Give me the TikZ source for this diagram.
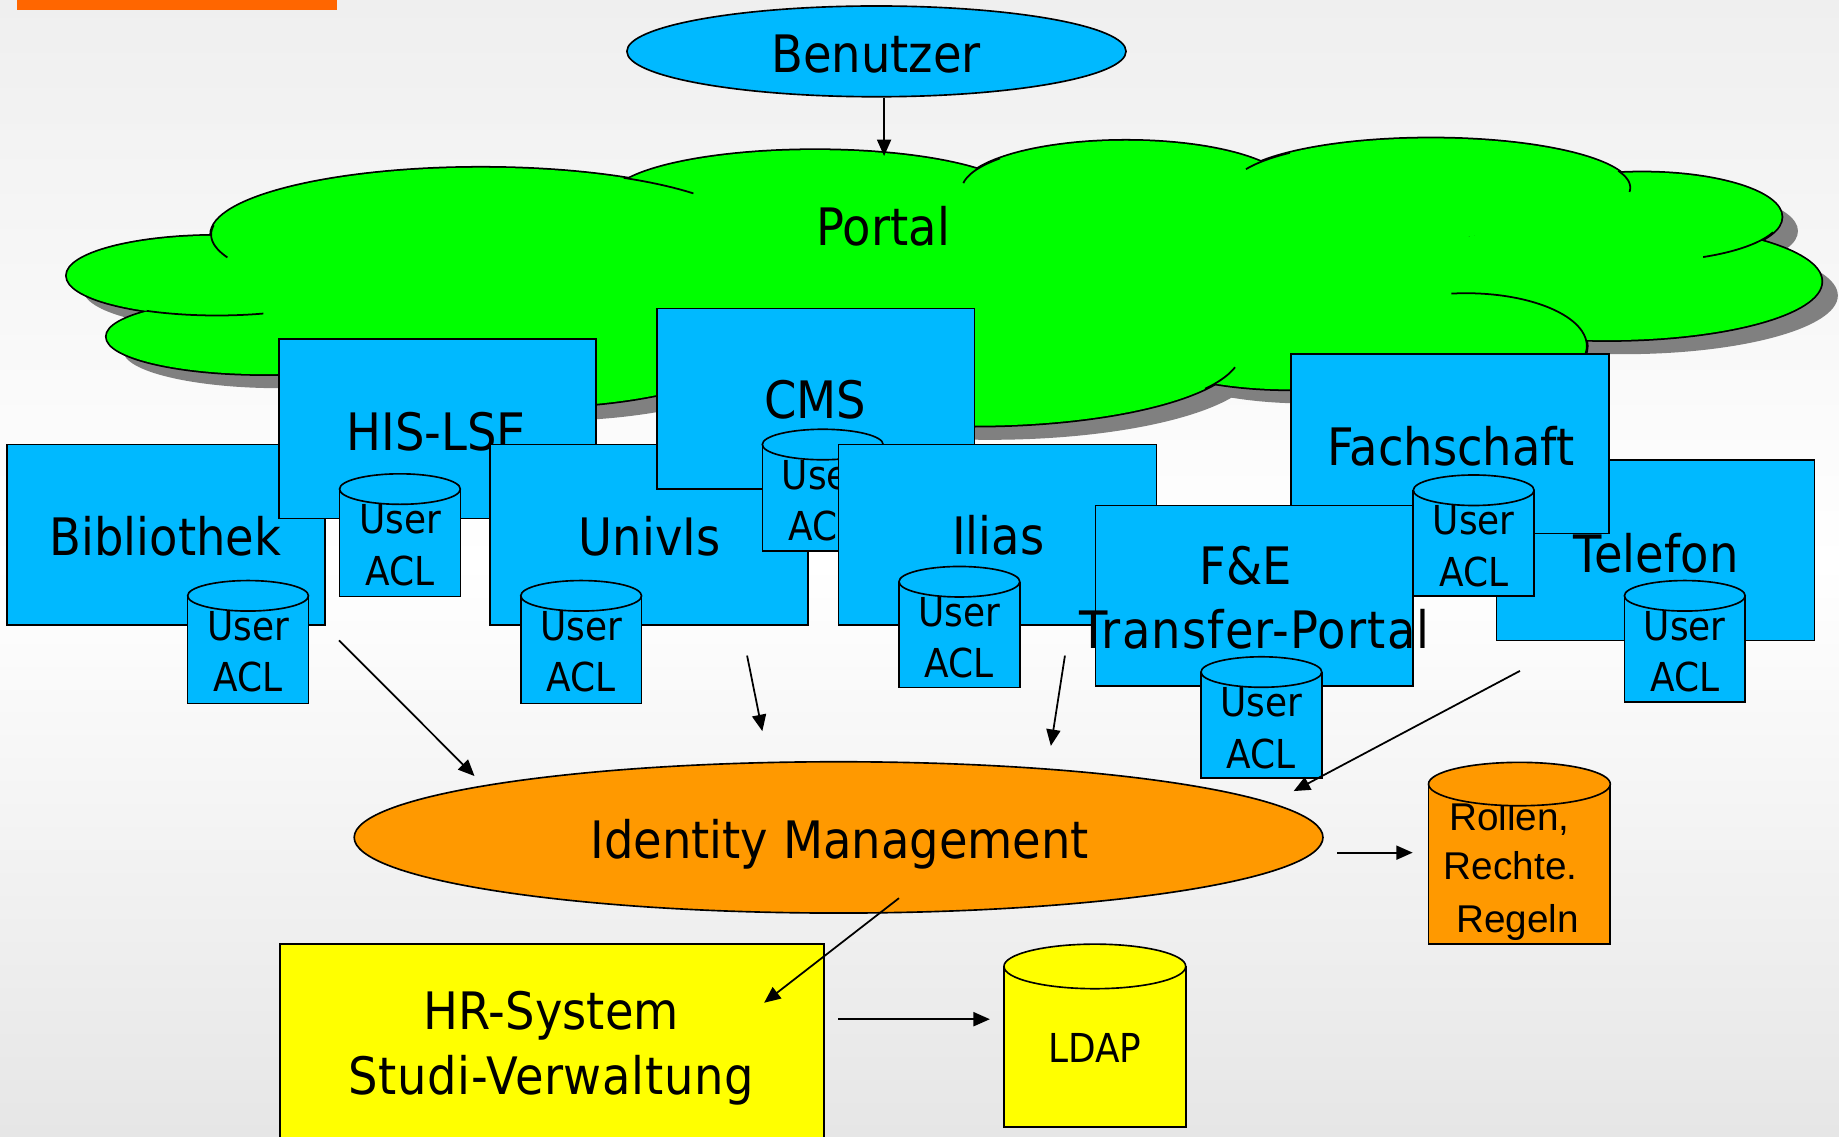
\documentclass[tikz,border=0pt]{standalone}
\usepackage{fontspec}
\setmainfont{DejaVu Sans}[FakeStretch=0.9]
\newfontfamily\arialfont{Liberation Sans}
\usetikzlibrary{arrows.meta,shapes.geometric}

\definecolor{appblue}{RGB}{0,185,255}
\definecolor{cloudgreen}{RGB}{0,255,0}
\definecolor{idmorange}{RGB}{255,153,0}
\definecolor{hryellow}{RGB}{255,255,0}
\definecolor{shadowgray}{RGB}{128,128,128}
\definecolor{barorange}{RGB}{255,102,0}
\definecolor{bgtop}{RGB}{239,239,239}
\definecolor{bgbottom}{RGB}{230,230,230}

\tikzset{
  outline/.style={draw, line width=1.4pt},
  appbox/.style={outline, fill=appblue, rectangle, inner sep=0pt},
  biglbl/.style={font=\fontsize{44}{50}\selectfont, anchor=base, inner sep=0pt},
  dblbl/.style={font=\fontsize{34}{40}\selectfont, anchor=base, inner sep=0pt},
  rulelbl/.style={font=\arialfont\fontsize{33}{40}\selectfont, anchor=base, inner sep=0pt},
  conn/.style={line width=1.5pt, -{Triangle[length=14pt,width=12pt]}},
  dbbody/.style={outline, rectangle, inner sep=0pt, anchor=north},
  dbtop/.style={outline, ellipse, inner sep=0pt},
}

% cloud lobes: centre x / centre y / x radius / y radius
\newcommand{\cloudlobes}{185/235/128/34, 225/287/134/32, 410/200/230/57,
  695/170/175/42, 960/162/140/42, 1220/160/170/42, 1400/185/119/38,
  1370/240/183/50, 1250/295/103/45, 1100/280/150/52, 830/300/228/63,
  450/285/200/62, 780/235/520/80}

% inner curl of a lobe: cx, cy, rx, ry, start angle, end angle
\newcommand{\lobetail}[6]{%
  \draw[line width=1.5pt] plot[domain=#5:#6, samples=30, smooth]
    ({#1+#3*cos(\x)},{#2-#4*sin(\x)});}

% database can: name, cx, cy of top face, rx, ry, bottom y, fill
\newcommand{\dbcan}[7]{%
  \node[dbbody, fill=#7, minimum width={2*#4}, minimum height={#6-#3}] (#1) at (#2,#3) {};}
\newcommand{\dbcantop}[5]{%
  \node[dbtop, fill=#5, minimum width={2*#3}, minimum height={2*#4}] (#1-top) at (#2) {};}

% small "User ACL" store: name, cx, cy of top face, bottom y
\newcommand{\aclstore}[4]{%
  \dbcan{#1}{#2}{#3}{51.5}{13}{#4}{appblue}
  \node[dblbl] (#1-user) at (#2,#3+38) {User};
  \node[dblbl] (#1-acl) at (#2,#3+82) {ACL};
  \dbcantop{#1}{#2,#3}{51.5}{13}{appblue}}

\begin{document}
\begin{tikzpicture}[x=1pt,y=-1pt]
\useasboundingbox (0,0) rectangle (1568,969);
\shade[top color=bgtop, bottom color=white] (0,0) rectangle (1568,480);
\shade[top color=white, bottom color=bgbottom] (0,480) rectangle (1568,969);

\fill[barorange] (14.5,0) rectangle (287,8.5);

% ---- portal cloud ----
\foreach \a/\b/\c/\d in \cloudlobes
  {\fill[shadowgray] (\a+14,\b+12) ellipse [x radius=\c, y radius=\d];}
\foreach \a/\b/\c/\d in \cloudlobes
  {\draw[line width=3pt] (\a,\b) ellipse [x radius=\c, y radius=\d];}
\foreach \a/\b/\c/\d in \cloudlobes
  {\fill[cloudgreen] (\a,\b) ellipse [x radius=\c, y radius=\d];}
\lobetail{410}{200}{230}{57}{172}{200}
\lobetail{185}{235}{128}{34}{-118}{-72}
\lobetail{410}{200}{230}{57}{58}{38}
\lobetail{960}{162}{140}{42}{140}{172}
\lobetail{1220}{160}{170}{42}{135}{158}
\lobetail{1220}{160}{170}{42}{20}{-5}
\lobetail{1400}{185}{119}{38}{-20}{-64}
\lobetail{1250}{295}{103}{45}{97}{-20}
\lobetail{830}{300}{228}{63}{-30}{-12}
\node[biglbl] (portal) at (753,209) {Portal};

% ---- user ----
\node[outline, ellipse, fill=appblue, inner sep=0pt, minimum width=425.6pt,
  minimum height=77.4pt] (benutzer) at (747.3,43.8) {};
\node[biglbl] (benutzer-text) at (747,62) {Benutzer};

% ---- applications ----
\node[appbox, minimum width=271pt, minimum height=154pt] (bib) at (141.5,456) {};
\node[biglbl] (bib-text) at (141,474) {Bibliothek};
\aclstore{bibdb}{211.5}{508}{599}

\node[appbox, minimum width=270pt, minimum height=153pt] (his) at (373,365.5) {};
\node[biglbl] (his-text) at (372,384) {HIS-LSE};
\aclstore{hisdb}{341}{417}{508}

\node[appbox, minimum width=271pt, minimum height=154pt] (univis) at (553.5,456) {};
\node[biglbl] (univis-text) at (554,474) {UnivIs};
\aclstore{univisdb}{495.5}{508}{599}

\node[appbox, minimum width=271pt, minimum height=154pt] (cms) at (695.5,340) {};
\node[biglbl] (cms-text) at (695,357) {CMS};
\aclstore{cmsdb}{701.5}{379}{469}

\node[appbox, minimum width=271pt, minimum height=154pt] (ilias) at (850.5,456) {};
\node[biglbl] (ilias-text) at (851,473) {Ilias};
\aclstore{iliasdb}{818}{496}{585.5}

\node[appbox, minimum width=271pt, minimum height=154pt] (tel) at (1411.5,469) {};
\node[biglbl] (tel-text) at (1412,488) {Telefon};
\aclstore{teldb}{1436.5}{508}{598}

\node[appbox, minimum width=271pt, minimum height=153pt] (fach) at (1236.5,378.5) {};
\node[biglbl] (fach-text) at (1237,396.5) {Fachschaft};

\node[appbox, minimum width=271pt, minimum height=154pt] (fe) at (1069.5,508) {};
\node[biglbl] (fe-text1) at (1062,498) {F\&E};
\node[biglbl] (fe-text2) at (1069.5,553) {\addfontfeature{LetterSpace=2.3}Transfer-Portal};
\aclstore{fedb}{1075.5}{573}{662.5}
\aclstore{fachdb}{1256.5}{418}{507.5}

% ---- identity management ----
\node[outline, ellipse, fill=idmorange, inner sep=0pt, minimum width=826pt,
  minimum height=129pt] (idm) at (715,714) {};
\node[biglbl] (idm-text) at (716,732) {Identity Management};

\dbcan{rules}{1295.5}{668.5}{77.5}{18.5}{804}{idmorange}
\node[rulelbl] (rules-l1) at (1287,708) {Rollen,};
\node[rulelbl] (rules-l2) at (1288,750) {Rechte.};
\node[rulelbl] (rules-l3) at (1294,795) {Regeln};
\dbcantop{rules}{1295.5,668.5}{77.5}{18.5}{idmorange}

% ---- HR / LDAP ----
\node[outline, rectangle, fill=hryellow, inner sep=0pt, anchor=north west,
  minimum width=464pt, minimum height=200pt] (hr) at (238,804) {};
\node[biglbl] (hr-text1) at (470,878) {HR-System};
\node[biglbl] (hr-text2) at (470,933) {\addfontfeature{LetterSpace=1.3}Studi-Verwaltung};

\dbcan{ldap}{933.5}{824}{77.5}{19}{960}{hryellow}
\node[dblbl] (ldap-text) at (933.5,906) {LDAP};
\dbcantop{ldap}{933.5,824}{77.5}{19}{hryellow}

% ---- connectors ----
\coordinate (portal-in) at (753.8,133);
\draw[conn] (benutzer.south -| portal-in) -- (portal-in);

\coordinate (bib-out) at (289,546);
\coordinate (idm-in1) at (404.6,661.7);
\draw[conn] (bib-out) -- (idm-in1);

\coordinate (univis-out) at (637,559);
\coordinate (idm-in2) at (650,623.4);
\draw[conn] (univis-out) -- (idm-in2);

\coordinate (ilias-out) at (908,559);
\coordinate (idm-in3) at (896,636);
\draw[conn] (ilias-out) -- (idm-in3);

\coordinate (tel-out) at (1296,572);
\coordinate (idm-in4) at (1103,674.5);
\draw[conn] (tel-out) -- (idm-in4);

\coordinate (idm-out1) at (1140,727);
\coordinate (rules-in) at (1204.5,727);
\draw[conn] (idm-out1) -- (rules-in);

\coordinate (idm-out2) at (766.5,765.8);
\coordinate (hr-in) at (651.5,855);
\draw[conn] (idm-out2) -- (hr-in);

\coordinate (hr-out) at (714.5,869);
\coordinate (ldap-in) at (844,869);
\draw[conn] (hr-out) -- (ldap-in);
\end{tikzpicture}
\end{document}
